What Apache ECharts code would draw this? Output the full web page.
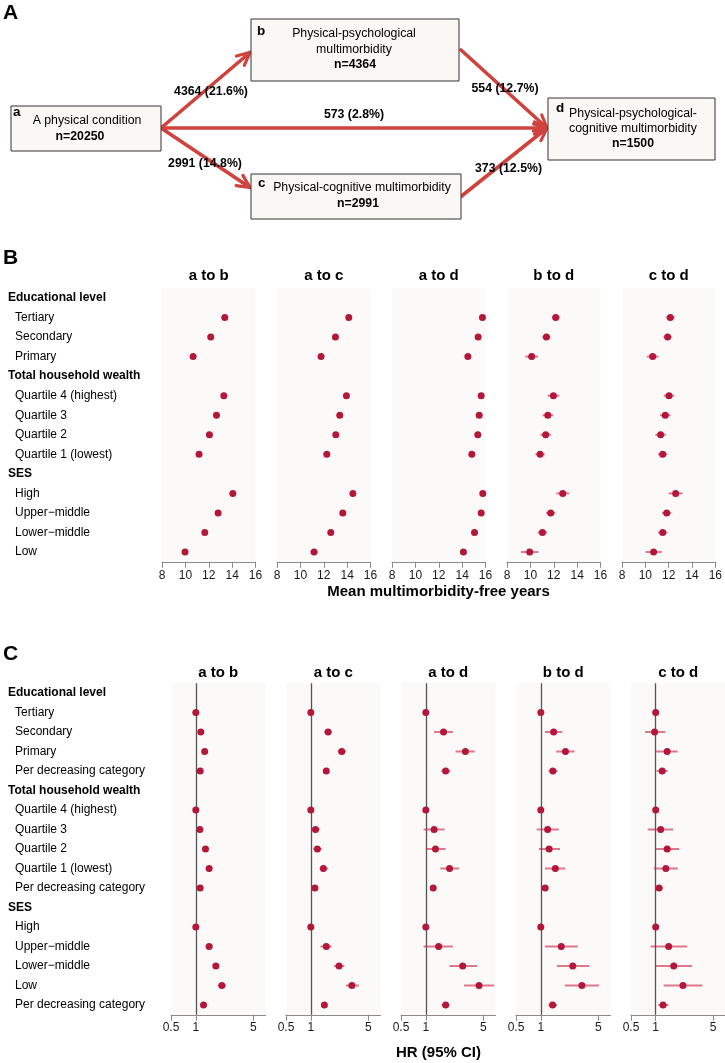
<!DOCTYPE html>
<html><head><meta charset="utf-8">
<script src="https://cdn.jsdelivr.net/npm/echarts@6/dist/echarts.min.js"></script>
<style>html,body{margin:0;padding:0;background:#fff}#c{width:725px;height:1063px}</style>
</head><body><div id="c"></div>
<script>
const FONT = '"Liberation Sans", Arial, Helvetica, sans-serif';

// ---------- Panel A data ----------
const nodeLetters = ['a', 'b', 'c', 'd'];
const nodeLines = [['A physical condition'], ['Physical-psychological', 'multimorbidity'], ['Physical-cognitive multimorbidity'], ['Physical-psychological-', 'cognitive multimorbidity']];
const nodeN = [20250, 4364, 2991, 1500];
const transitionFrom = [0, 0, 0, 1, 2];
const transitionTo = [1, 2, 3, 3, 3];
const transitionN = [4364, 2991, 573, 554, 373];
const transitionPct = [21.6, 14.8, 2.8, 12.7, 12.5];

// ---------- Panels B & C shared ----------
const panelTitles = ['a to b', 'a to c', 'a to d', 'b to d', 'c to d'];
const headers = ['Educational level', 'Total household wealth', 'SES'];

// ---------- Panel B data ----------
const rowsB = ['Educational level', 'Tertiary', 'Secondary', 'Primary', 'Total household wealth', 'Quartile 4 (highest)', 'Quartile 3', 'Quartile 2', 'Quartile 1 (lowest)', 'SES', 'High', 'Upper\u2212middle', 'Lower\u2212middle', 'Low'];
const ticksB = [8, 10, 12, 14, 16];
const meanAB = [13.37, 12.17, 10.66, 13.29, 12.66, 12.06, 11.17, 14.06, 12.80, 11.66, 9.97];
const loAB   = [13.28, 12.08, 10.55, 13.20, 12.57, 11.96, 11.06, 13.96, 12.70, 11.55, 9.70];
const hiAB   = [13.46, 12.26, 10.77, 13.38, 12.75, 12.16, 11.28, 14.16, 12.90, 11.77, 10.24];
const meanAC = [14.14, 13.00, 11.77, 13.94, 13.37, 13.03, 12.26, 14.49, 13.63, 12.60, 11.17];
const loAC   = [14.05, 12.90, 11.66, 13.84, 13.27, 12.93, 12.15, 14.40, 13.53, 12.50, 10.87];
const hiAC   = [14.23, 13.10, 11.88, 14.04, 13.47, 13.13, 12.37, 14.58, 13.73, 12.70, 11.47];
const meanAD = [15.74, 15.37, 14.49, 15.63, 15.46, 15.34, 14.83, 15.77, 15.63, 15.06, 14.11];
const loAD   = [15.66, 15.28, 14.39, 15.54, 15.37, 15.25, 14.73, 15.69, 15.54, 14.96, 13.86];
const hiAD   = [15.82, 15.46, 14.59, 15.72, 15.55, 15.43, 14.93, 15.85, 15.72, 15.16, 14.36];
const meanBD = [12.17, 11.37, 10.11, 11.97, 11.49, 11.31, 10.83, 12.77, 11.74, 11.03, 9.94];
const loBD   = [11.84, 11.02, 9.56, 11.47, 11.04, 10.86, 10.43, 12.22, 11.34, 10.63, 9.19];
const hiBD   = [12.50, 11.72, 10.66, 12.47, 11.94, 11.76, 11.23, 13.32, 12.14, 11.43, 10.69];
const meanCD = [12.14, 11.91, 10.63, 12.03, 11.71, 11.31, 11.49, 12.60, 11.83, 11.49, 10.71];
const loCD   = [11.77, 11.56, 10.13, 11.58, 11.26, 10.86, 11.09, 12.00, 11.43, 11.09, 10.01];
const hiCD   = [12.51, 12.26, 11.13, 12.48, 12.16, 11.76, 11.89, 13.20, 12.23, 11.89, 11.41];

// ---------- Panel C data ----------
const rowsC = ['Educational level', 'Tertiary', 'Secondary', 'Primary', 'Per decreasing category', 'Total household wealth', 'Quartile 4 (highest)', 'Quartile 3', 'Quartile 2', 'Quartile 1 (lowest)', 'Per decreasing category', 'SES', 'High', 'Upper\u2212middle', 'Lower\u2212middle', 'Low', 'Per decreasing category'];
const ticksC = [0.5, 1, 5];
const refHR = 1;
const hrAB = [1, 1.15, 1.28, 1.13, 1, 1.12, 1.31, 1.45, 1.13, 1, 1.45, 1.75, 2.07, 1.24];
const hrLoAB = [null, 1.10, 1.22, 1.09, null, 1.06, 1.24, 1.37, 1.10, null, 1.32, 1.60, 1.85, 1.17];
const hrHiAB = [null, 1.20, 1.34, 1.17, null, 1.18, 1.38, 1.53, 1.16, null, 1.60, 1.92, 2.32, 1.31];
const hrAC = [1, 1.62, 2.37, 1.54, 1, 1.14, 1.20, 1.42, 1.12, 1, 1.54, 2.20, 3.15, 1.46];
const hrLoAC = [null, 1.46, 2.12, 1.47, null, 1.03, 1.07, 1.28, 1.08, null, 1.31, 1.91, 2.66, 1.40];
const hrHiAC = [null, 1.79, 2.68, 1.61, null, 1.28, 1.35, 1.61, 1.16, null, 1.79, 2.56, 3.83, 1.52];
const hrAD = [1, 1.64, 3.02, 1.74, 1, 1.26, 1.31, 1.94, 1.23, 1, 1.43, 2.80, 4.42, 1.74];
const hrLoAD = [null, 1.26, 2.30, 1.54, null, 0.94, 1.00, 1.50, 1.14, null, 0.94, 1.93, 2.90, 1.55];
const hrHiAD = [null, 2.13, 3.92, 1.98, null, 1.69, 1.74, 2.53, 1.32, null, 2.13, 4.18, 6.75, 1.94];
const hrBD = [1, 1.43, 1.99, 1.40, 1, 1.21, 1.26, 1.50, 1.13, 1, 1.77, 2.44, 3.15, 1.39];
const hrLoBD = [null, 1.12, 1.54, 1.24, null, 0.89, 0.95, 1.12, 1.06, null, 1.12, 1.57, 1.95, 1.24];
const hrHiBD = [null, 1.82, 2.56, 1.60, null, 1.65, 1.71, 1.99, 1.20, null, 2.81, 3.87, 5.08, 1.57];
const hrCD = [1, 0.97, 1.38, 1.20, 1, 1.15, 1.38, 1.33, 1.10, 1, 1.44, 1.66, 2.15, 1.23];
const hrLoCD = [null, 0.74, 1.00, 1.03, null, 0.80, 1.00, 0.95, 1.02, null, 0.87, 1.00, 1.25, 1.08];
const hrHiCD = [null, 1.31, 1.86, 1.40, null, 1.63, 1.94, 1.86, 1.22, null, 2.43, 2.77, 3.71, 1.43];

// ---------- styling / layout ----------
const DOT = '#b3173b';
const CI = 'rgba(200,40,78,0.62)';
const BG = '#fcfaf8';
const AXIS = '#8a8a8a';
const ARROW = '#d0423d';

const gridLeftB = [162, 277, 392, 507, 622];
const gridLeftC = [171, 286, 401, 516, 631];
const gridWB = 93.5, gridWC = 94.5;
const topB = 288.2, hB = 273.6;
const topC = 683.25, hC = 331.5;

const meansB = [meanAB, meanAC, meanAD, meanBD, meanCD];
const losB = [loAB, loAC, loAD, loBD, loCD];
const hisB = [hiAB, hiAC, hiAD, hiBD, hiCD];
const hrsC = [hrAB, hrAC, hrAD, hrBD, hrCD];
const losC = [hrLoAB, hrLoAC, hrLoAD, hrLoBD, hrLoCD];
const hisC = [hrHiAB, hrHiAC, hrHiAD, hrHiBD, hrHiCD];

const subIdx = rows => rows.map((r, i) => headers.includes(r) ? -1 : i).filter(i => i >= 0);
const idxB = subIdx(rowsB), idxC = subIdx(rowsC);

function labelFmt(v) { return headers.includes(v) ? '{h|' + v + '}' : '{s|' + v + '}'; }
const richLabels = {
  h: { fontFamily: FONT, fontSize: 12, fontWeight: 'bold', color: '#000' },
  s: { fontFamily: FONT, fontSize: 12, color: '#000', padding: [0, 0, 0, 7] }
};

const grid = [], xAxis = [], yAxis = [], series = [];

function errRender(params, api) {
  const p1 = api.coord([api.value(0), api.value(2)]);
  const p2 = api.coord([api.value(1), api.value(2)]);
  return { type: 'line', shape: { x1: p1[0], y1: p1[1], x2: p2[0], y2: p2[1] }, style: { stroke: CI, lineWidth: 2 } };
}

for (let i = 0; i < 5; i++) {
  grid.push({ left: gridLeftB[i], top: topB, width: gridWB, height: hB, show: true, backgroundColor: BG, borderWidth: 0 });
  xAxis.push({
    gridIndex: i, type: 'value', min: 8, max: 16, interval: 2,
    axisLine: { show: true, onZero: false, lineStyle: { color: AXIS, width: 1 } },
    axisTick: { show: true, length: 6, lineStyle: { color: AXIS } },
    axisLabel: { fontFamily: FONT, fontSize: 12, color: '#1a1a1a', margin: 8 },
    splitLine: { show: false }
  });
  yAxis.push({
    gridIndex: i, type: 'category', data: rowsB, inverse: true,
    axisLine: { show: false }, axisTick: { show: false }, splitLine: { show: false },
    axisLabel: i === 0 ? { show: true, interval: 0, align: 'left', margin: gridLeftB[0] - 8, formatter: labelFmt, rich: richLabels } : { show: false }
  });
  series.push({
    type: 'custom', xAxisIndex: i, yAxisIndex: i, renderItem: errRender, silent: true, z: 2,
    encode: { x: [0, 1], y: 2 },
    data: losB[i].map((lo, k) => [lo, hisB[i][k], idxB[k]])
  });
  series.push({
    type: 'scatter', xAxisIndex: i, yAxisIndex: i, symbolSize: 7, silent: true, z: 3,
    itemStyle: { color: DOT, opacity: 1 },
    data: meansB[i].map((v, k) => [v, idxB[k]])
  });
}

for (let i = 0; i < 5; i++) {
  const g = 5 + i;
  grid.push({ left: gridLeftC[i], top: topC, width: gridWC, height: hC, show: true, backgroundColor: BG, borderWidth: 0 });
  xAxis.push({
    gridIndex: g, type: 'log', logBase: 10, min: 0.5, max: 7,
    axisLine: { show: true, onZero: false, lineStyle: { color: AXIS, width: 1 } },
    axisTick: { show: true, length: 6, lineStyle: { color: AXIS }, customValues: ticksC },
    axisLabel: { fontFamily: FONT, fontSize: 12, color: '#1a1a1a', margin: 7, customValues: ticksC, formatter: v => String(v) },
    splitLine: { show: false }, minorTick: { show: false }
  });
  yAxis.push({
    gridIndex: g, type: 'category', data: rowsC, inverse: true,
    axisLine: { show: false }, axisTick: { show: false }, splitLine: { show: false },
    axisLabel: i === 0 ? { show: true, interval: 0, align: 'left', margin: gridLeftC[0] - 8, formatter: labelFmt, rich: richLabels } : { show: false }
  });
  const ci = [];
  losC[i].forEach((lo, k) => { if (lo !== null) ci.push([lo, hisC[i][k], idxC[k]]); });
  series.push({
    type: 'custom', xAxisIndex: g, yAxisIndex: g, renderItem: errRender, silent: true, z: 2,
    encode: { x: [0, 1], y: 2 }, data: ci
  });
  series.push({
    type: 'scatter', xAxisIndex: g, yAxisIndex: g, symbolSize: 7, silent: true, z: 3,
    itemStyle: { color: DOT, opacity: 1 },
    data: hrsC[i].map((v, k) => [v, idxC[k]]),
    markLine: { silent: true, z: 1, symbol: ['none', 'none'], label: { show: false }, animation: false,
      lineStyle: { color: '#555', width: 1.3, type: 'solid' }, data: [{ xAxis: refHR }] }
  });
}

// ---------- graphic: panel A diagram + titles ----------
const gfx = [];
function txt(x, y, text, size, bold, align) {
  gfx.push({ type: 'text', x: x, y: y, silent: true, z: 10,
    style: { text: text, font: (bold ? 'bold ' : '') + size + 'px ' + FONT, fill: '#000',
      align: align || 'center', verticalAlign: 'middle', textAlign: align || 'center', textVerticalAlign: 'middle' } });
}
txt(3, 13, 'A', 21, true, 'left');
txt(3, 258, 'B', 21, true, 'left');
txt(3, 654, 'C', 21, true, 'left');

const boxRect = [[11, 106, 150, 45], [251, 19, 208, 62], [251, 174, 210, 45], [548, 98, 167, 62]];
const letterPos = [[13, 112], [257, 31], [258, 183], [556, 108]];
const linePos = [[87, [121]], [354, [34, 49.5]], [362, [188]], [633, [113.5, 128.5]]];
const nPos = [[80, 136.5], [355, 65], [358, 204], [633, 143.5]];
for (let k = 0; k < 4; k++) {
  const r = boxRect[k];
  gfx.push({ type: 'rect', silent: true, z: 5, shape: { x: r[0], y: r[1], width: r[2], height: r[3] },
    style: { fill: '#faf8f5', stroke: '#333', lineWidth: 1 } });
  txt(letterPos[k][0], letterPos[k][1], nodeLetters[k], 13.5, true, 'left');
  nodeLines[k].forEach((s, j) => txt(linePos[k][0], linePos[k][1][j], s, 12.3, false));
  txt(nPos[k][0], nPos[k][1], 'n=' + nodeN[k], 12.3, true);
}
const arrowPts = [[161, 128, 250, 52.5], [161, 128, 250, 187.5], [161, 128, 547, 128], [461, 50, 547, 128], [461, 196.5, 547, 128]];
const transLabelPos = [[211, 92], [205, 164], [354, 115], [505, 88.5], [508.5, 168.5]];
arrowPts.forEach(a => {
  const [x1, y1, x2, y2] = a;
  const ang = Math.atan2(y2 - y1, x2 - x1);
  const L = 14, w = 0.45;
  gfx.push({ type: 'line', silent: true, z: 4, shape: { x1, y1, x2, y2 }, style: { stroke: ARROW, lineWidth: 3.6, lineCap: 'round' } });
  gfx.push({ type: 'polyline', silent: true, z: 4,
    shape: { points: [[x2 - L * Math.cos(ang - w), y2 - L * Math.sin(ang - w)], [x2, y2], [x2 - L * Math.cos(ang + w), y2 - L * Math.sin(ang + w)]] },
    style: { stroke: ARROW, lineWidth: 3.2, fill: null, lineJoin: 'miter', lineCap: 'round' } });
});
for (let k = 0; k < transitionN.length; k++) {
  txt(transLabelPos[k][0], transLabelPos[k][1], transitionN[k] + ' (' + transitionPct[k].toFixed(1) + '%)', 12.3, true);
}
for (let i = 0; i < 5; i++) {
  txt(gridLeftB[i] + gridWB / 2, 276, panelTitles[i], 15, true);
  txt(gridLeftC[i] + gridWC / 2, 673, panelTitles[i], 15, true);
}
txt(438.5, 592, 'Mean multimorbidity-free years', 15, true);
txt(438.5, 1053, 'HR (95% CI)', 15, true);

const chart = echarts.init(document.getElementById('c'), null, { renderer: 'canvas' });
chart.setOption({
  animation: false,
  backgroundColor: '#ffffff',
  textStyle: { fontFamily: FONT },
  grid, xAxis, yAxis, series,
  graphic: { elements: gfx }
});
</script></body></html>
